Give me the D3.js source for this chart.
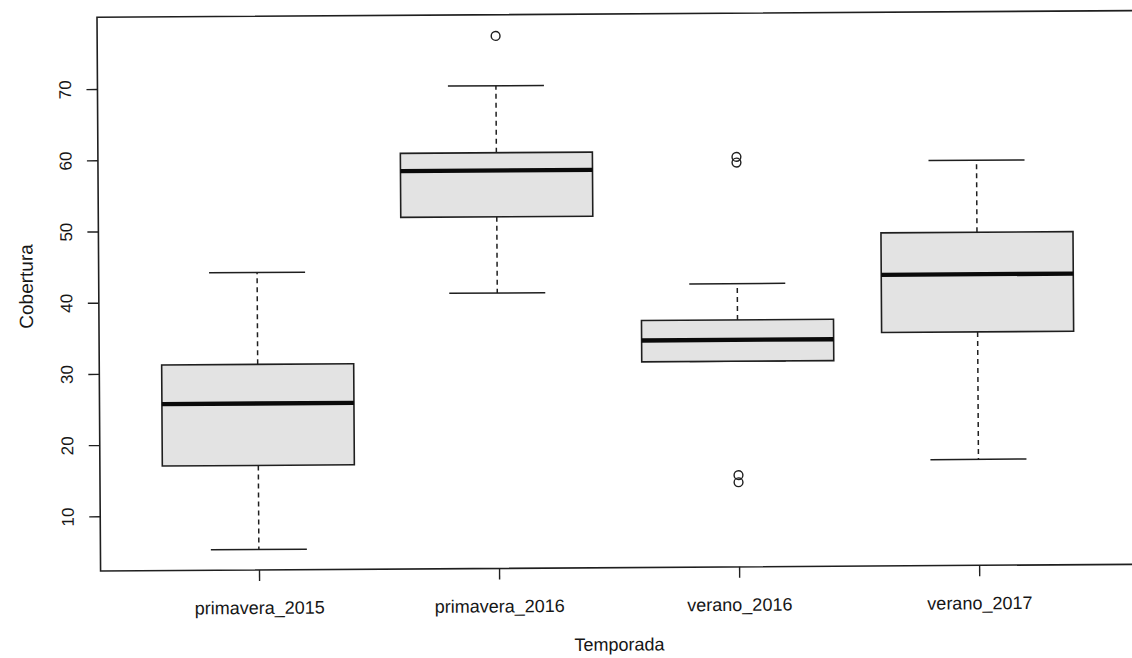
<!DOCTYPE html>
<html>
<head>
<meta charset="utf-8">
<script src="https://cdn.jsdelivr.net/npm/d3@7"></script>
<style>
  html, body { margin: 0; padding: 0; background: #fff; }
  svg { display: block; }
  text { font-family: "Liberation Sans", Arial, Helvetica, sans-serif; fill: #161616; }
</style>
</head>
<body>
<svg id="chart" width="1132" height="658"></svg>
<script>
// Cobertura by season: five-number summaries plus outlying points
const categories  = ["primavera_2015", "primavera_2016", "verano_2016", "verano_2017"];
const whiskerLow  = [5.2, 41.0, 31.2, 17.2];
const q1          = [17.0, 51.7, 31.2, 35.1];
const median      = [25.7, 58.2, 34.2, 43.2];
const q3          = [31.2, 60.7, 37.0, 49.1];
const whiskerHigh = [44.1, 70.1, 42.1, 59.2];
const outliers    = [[], [77.1], [59.9, 59.1, 15.2, 14.2], []];
const yTicks      = [10, 20, 30, 40, 50, 60, 70];

const svg = d3.select("#chart");

// plotting region
const plotLeft = 97, plotRight = 1134, plotTop = 17.3, plotBottom = 571;

// the page sits at a slight tilt
const g = svg.append("g").attr("transform", `rotate(-0.37, ${plotLeft}, ${plotTop})`);

const x = d3.scaleLinear().domain([0.34, 4.66]).range([plotLeft, plotRight]);
const y = d3.scaleLinear().domain([2.32, 80.08]).range([plotBottom, plotTop]);

const ink = "#1f1f1f";
const boxHalf = 0.4, capHalf = 0.2;

const data = categories.map((c, i) => ({
  c, i, pos: i + 1,
  lo: whiskerLow[i], q1: q1[i], med: median[i], q3: q3[i], hi: whiskerHigh[i],
  out: outliers[i]
}));

const boxes = g.selectAll("g.box").data(data).join("g").attr("class", "box");

// dashed whiskers
boxes.append("line")
  .attr("x1", d => x(d.pos)).attr("x2", d => x(d.pos))
  .attr("y1", d => y(d.q3)).attr("y2", d => y(d.hi))
  .attr("stroke", ink).attr("stroke-width", 1.5).attr("stroke-dasharray", "5,4");
boxes.append("line")
  .attr("x1", d => x(d.pos)).attr("x2", d => x(d.pos))
  .attr("y1", d => y(d.q1)).attr("y2", d => y(d.lo))
  .attr("stroke", ink).attr("stroke-width", 1.5).attr("stroke-dasharray", "5,4");

// whisker caps
["hi", "lo"].forEach(k => {
  boxes.append("line")
    .attr("x1", d => x(d.pos - capHalf)).attr("x2", d => x(d.pos + capHalf))
    .attr("y1", d => y(d[k])).attr("y2", d => y(d[k]))
    .attr("stroke", ink).attr("stroke-width", 1.5);
});

// interquartile boxes
boxes.append("rect")
  .attr("x", d => x(d.pos - boxHalf))
  .attr("width", d => x(d.pos + boxHalf) - x(d.pos - boxHalf))
  .attr("y", d => y(d.q3))
  .attr("height", d => y(d.q1) - y(d.q3))
  .attr("fill", "#e3e3e3").attr("stroke", ink).attr("stroke-width", 1.6);

// medians
boxes.append("line")
  .attr("x1", d => x(d.pos - boxHalf)).attr("x2", d => x(d.pos + boxHalf))
  .attr("y1", d => y(d.med)).attr("y2", d => y(d.med))
  .attr("stroke", "#0a0a0a").attr("stroke-width", 4.3);

// outlying points
boxes.selectAll("circle").data(d => d.out.map(v => ({ pos: d.pos, v })))
  .join("circle")
  .attr("cx", d => x(d.pos)).attr("cy", d => y(d.v)).attr("r", 4.4)
  .attr("fill", "none").attr("stroke", ink).attr("stroke-width", 1.4);

// frame
g.append("rect")
  .attr("x", plotLeft).attr("y", plotTop)
  .attr("width", plotRight - plotLeft).attr("height", plotBottom - plotTop)
  .attr("fill", "none").attr("stroke", ink).attr("stroke-width", 1.6);

// y axis
const yAxis = g.append("g").attr("transform", `translate(${plotLeft},0)`)
  .call(d3.axisLeft(y).tickValues(yTicks).tickSize(11).tickFormat(d3.format("d")));
yAxis.select(".domain").remove();
yAxis.selectAll(".tick line").attr("stroke", ink).attr("stroke-width", 1.4);
yAxis.selectAll(".tick text")
  .attr("x", 0).attr("dy", 0)
  .attr("transform", "translate(-26.5,0) rotate(-90)")
  .attr("text-anchor", "middle")
  .style("font-size", "17px");

// x axis
const xAxis = g.append("g").attr("transform", `translate(0,${plotBottom})`)
  .call(d3.axisBottom(x).tickValues(data.map(d => d.pos)).tickSize(11)
    .tickFormat((d, i) => categories[i]));
xAxis.select(".domain").remove();
xAxis.selectAll(".tick line").attr("stroke", ink).attr("stroke-width", 1.4);
xAxis.selectAll(".tick text")
  .attr("y", 0).attr("dy", 0)
  .attr("transform", "translate(0,44)")
  .attr("text-anchor", "middle")
  .style("font-size", "18px");

// axis titles
g.append("text")
  .attr("transform", `translate(31,286) rotate(-90)`)
  .attr("text-anchor", "middle")
  .style("font-size", "19px")
  .text("Cobertura");

g.append("text")
  .attr("x", (plotLeft + plotRight) / 2).attr("y", 654)
  .attr("text-anchor", "middle")
  .style("font-size", "18px")
  .text("Temporada");
</script>
</body>
</html>
